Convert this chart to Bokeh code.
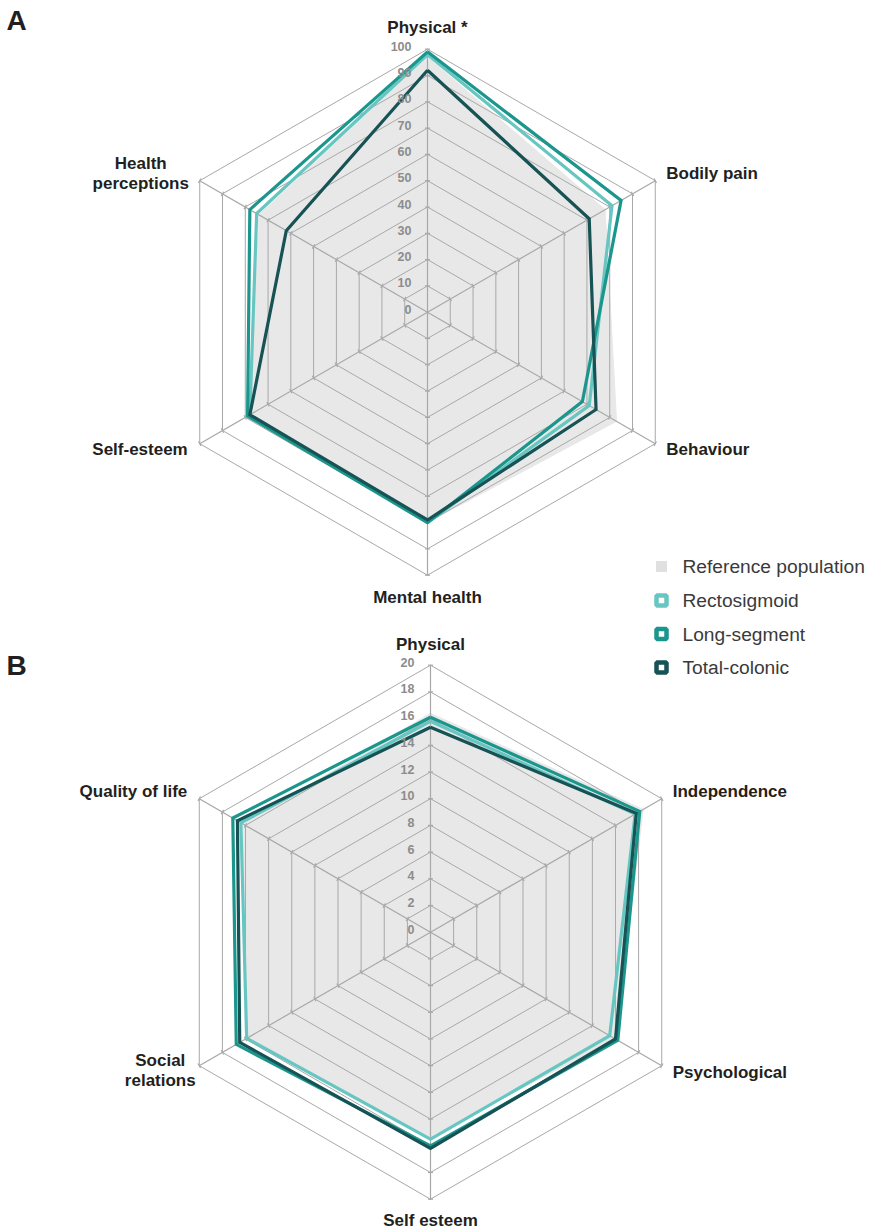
import math
from bokeh.plotting import figure
from bokeh.models import Range1d, ColumnDataSource
from bokeh.core.properties import value
from bokeh.embed import file_html
from bokeh.resources import INLINE

# ---------------- data ----------------
cats_a = ["Physical *", "Bodily pain", "Behaviour", "Mental health", "Self-esteem", "Health perceptions"]
ticks_a = [0, 10, 20, 30, 40, 50, 60, 70, 80, 90, 100]
ref_a = [97, 78, 83, 80, 78, 74]
recto_a = [98, 81, 71, 80, 78, 75]
long_a = [99, 85, 68, 80, 79, 78]
total_a = [92, 71, 74, 79, 78, 62]

cats_b = ["Physical", "Independence", "Psychological", "Self esteem", "Social relations", "Quality of life"]
ticks_b = [0, 2, 4, 6, 8, 10, 12, 14, 16, 18, 20]
ref_b = [16.4, 18.4, 16.0, 15.3, 16.0, 16.2]
recto_b = [15.8, 17.7, 15.5, 15.5, 15.9, 16.4]
long_b = [16.1, 18.1, 16.2, 16.0, 16.8, 17.1]
total_b = [15.35, 17.8, 16.0, 16.2, 16.5, 16.7]

series_names = ["Reference population", "Rectosigmoid", "Long-segment", "Total-colonic"]

# ---------------- style ----------------
C_REF = "#e8e8e8"
C_REF_LEG = "#e0e0e0"
C_RECTO = "#67c6c1"
C_LONG = "#1b968c"
C_TOTAL = "#175254"
C_GRID = "#a8a8a8"
C_TICK = "#8c8c8c"
C_TEXT = "#231f20"
FONT = "Liberation Sans"

W, H = 871, 1229
p = figure(width=W, height=H, output_backend="svg", toolbar_location=None,
           x_range=Range1d(0, W), y_range=Range1d(H, 0),
           min_border=0, outline_line_color=None)
p.axis.visible = False
p.grid.visible = False
p.background_fill_color = "white"


def pt(cx, cy, rad, vmax, v, i):
    ang = math.radians(90 - 60 * i)
    r = rad * v / vmax
    return cx + r * math.cos(ang), cy - r * math.sin(ang)


def radar(cx, cy, rad, ticks, cats, ref, series, labels, label_offsets):
    vmax = ticks[-1]
    n = len(cats)
    # reference population fill
    xs, ys = zip(*[pt(cx, cy, rad, vmax, v, i) for i, v in enumerate(ref)])
    p.patch(list(xs), list(ys), fill_color=C_REF, line_color=C_REF, line_width=1)
    # rings
    for t in ticks[1:]:
        rx, ry = zip(*[pt(cx, cy, rad, vmax, t, i) for i in range(n)])
        p.line(list(rx) + [rx[0]], list(ry) + [ry[0]], line_color=C_GRID, line_width=1)
    # spokes + small ticks
    for i in range(n):
        ex, ey = pt(cx, cy, rad, vmax, vmax, i)
        p.line([cx, ex], [cy, ey], line_color=C_GRID, line_width=1.2)
        ang = math.radians(90 - 60 * i)
        nx, ny = -math.sin(ang), -math.cos(ang)
        sx0, sx1, sy0, sy1 = [], [], [], []
        for t in ticks[1:]:
            tx, ty = pt(cx, cy, rad, vmax, t, i)
            sx0.append(tx - 2.5 * nx); sx1.append(tx + 2.5 * nx)
            sy0.append(ty - 2.5 * ny); sy1.append(ty + 2.5 * ny)
        p.segment(sx0, sy0, sx1, sy1, line_color=C_GRID, line_width=1.2)
    # series
    for vals, col in series:
        sx, sy = zip(*[pt(cx, cy, rad, vmax, v, i) for i, v in enumerate(vals)])
        p.line(list(sx) + [sx[0]], list(sy) + [sy[0]], line_color=col, line_width=3.2,
               line_join="miter")
    # tick labels
    tl = ColumnDataSource(dict(x=[cx - 16] * len(ticks),
                               y=[cy - rad * t / vmax - 3 for t in ticks],
                               t=[str(t) for t in ticks]))
    p.text("x", "y", "t", source=tl, text_align="right", text_baseline="middle",
           text_font=value(FONT), text_font_style="bold", text_font_size="12.5px",
           text_color=C_TICK)
    # category labels
    for i, (lab, (dx, dy, align)) in enumerate(zip(labels, label_offsets)):
        ex, ey = pt(cx, cy, rad, vmax, vmax, i)
        lines = lab.split("\n")
        n_l = len(lines)
        for k, ln in enumerate(lines):
            p.text([ex + dx], [ey + dy + (k - (n_l - 1) / 2) * 20], text=[ln],
                   text_align=align, text_baseline="middle",
                   text_font=value(FONT), text_font_style="bold", text_font_size="17px",
                   text_color=C_TEXT)


# Chart A
labels_a = ["Physical *", "Bodily pain", "Behaviour", "Mental health", "Self-esteem", "Health\nperceptions"]
offs_a = [(0, -22, "center"), (11, -7, "left"), (11, 6, "left"), (0, 22, "center"),
          (-12, 6, "right"), (-59, -7, "center")]
radar(427, 311.7, 263, ticks_a, cats_a, ref_a,
      [(recto_a, C_RECTO), (long_a, C_LONG), (total_a, C_TOTAL)], labels_a, offs_a)

# Chart B
labels_b = ["Physical", "Independence", "Psychological", "Self esteem", "Social\nrelations", "Quality of life"]
offs_b = [(0, -21, "center"), (11, -7, "left"), (11, 7, "left"), (0, 21, "center"),
          (-39, 5, "center"), (-12, -7, "right")]
radar(430, 931.7, 267, ticks_b, cats_b, ref_b,
      [(recto_b, C_RECTO), (long_b, C_LONG), (total_b, C_TOTAL)], labels_b, offs_b)

# Panel letters
p.text([6, 6], [20, 665], text=["A", "B"], text_align="left", text_baseline="middle",
       text_font=value(FONT), text_font_style="bold", text_font_size="28px", text_color=C_TEXT)

# Legend
leg_y = [566, 600, 633.5, 667]
p.scatter([661], [leg_y[0]], marker="square", size=11, fill_color=C_REF_LEG, line_color=None)
p.scatter([661] * 3, leg_y[1:], marker="square", size=10, fill_color="white",
          line_color=[C_RECTO, C_LONG, C_TOTAL], line_width=4.5)
p.text([682] * 4, leg_y, text=series_names, text_align="left", text_baseline="middle",
       text_font=value(FONT), text_font_size="19.2px", text_color="#3a3a3a")

open("out.html", "w").write(file_html(p, INLINE))
